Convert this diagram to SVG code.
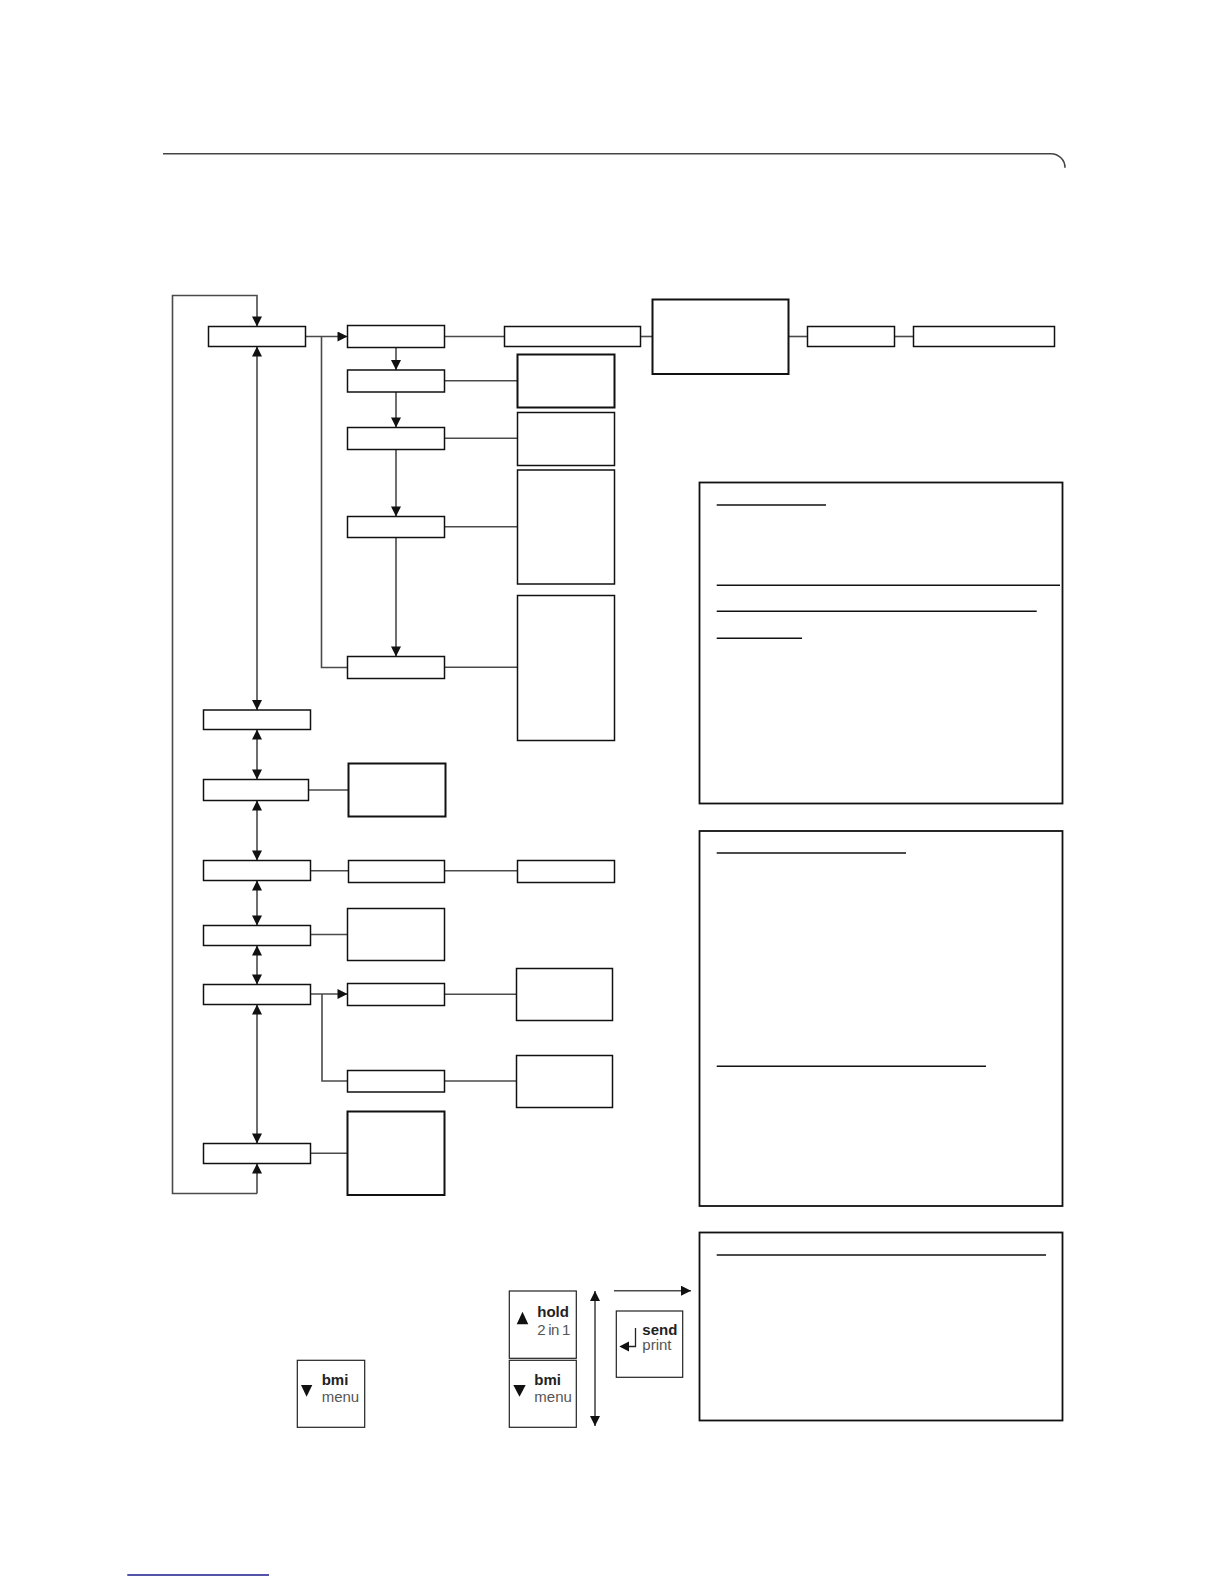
<svg xmlns="http://www.w3.org/2000/svg" width="1224" height="1584" viewBox="0 0 1224 1584">
<style>
  .n { fill: #fff; stroke: #111; stroke-width: 1.5; }
  .t { fill: #fff; stroke: #111; stroke-width: 2; }
  .info { fill: #fff; stroke: #111; stroke-width: 1.8; }
  .ul { stroke: #111; stroke-width: 1.6; }
  .c { fill: none; stroke: #4a4a4a; stroke-width: 1.6; }
  .key { fill: #fff; stroke: #222; stroke-width: 1.2; }
  .kb { font-family: "Liberation Sans", Arial, sans-serif; font-size: 15px; font-weight: bold; fill: #222; }
  .kr { font-family: "Liberation Sans", Arial, sans-serif; font-size: 15px; fill: #555; }
</style>
<defs>
  <marker id="ah" viewBox="0 0 10 10" refX="10" refY="5" markerWidth="11" markerHeight="10" markerUnits="userSpaceOnUse" orient="auto-start-reverse">
    <path d="M0,0 L10,5 L0,10 z" fill="#111"/>
  </marker>
</defs>
<rect width="1224" height="1584" fill="#fff"/>

<g id="header">
  <path d="M163,153.7 H1051 A14,14 0 0 1 1065,167.7" fill="none" stroke="#444" stroke-width="1.6"/>
</g>

<g id="connectors">
  <path class="c" d="M257,1193.5 H172.5 V295.5 H257 V326.5" marker-end="url(#ah)"/>
  <path class="c" d="M257,1193.5 V1163.5" marker-end="url(#ah)"/>
  <path class="c" d="M305.5,336.5 H347.5" marker-end="url(#ah)"/>
  <path class="c" d="M321.5,336.5 V667.5 H347.5"/>
  <path class="c" d="M444.5,336.5 H504.5"/>
  <path class="c" d="M640.5,336.5 H652.5"/>
  <path class="c" d="M788.5,336.5 H807.5"/>
  <path class="c" d="M894.5,336.5 H913.5"/>
  <path class="c" d="M396,347.5 V370" marker-end="url(#ah)"/>
  <path class="c" d="M444.5,380.7 H517.5"/>
  <path class="c" d="M396,392 V427.5" marker-end="url(#ah)"/>
  <path class="c" d="M444.5,438.3 H517.5"/>
  <path class="c" d="M396,449.5 V516.5" marker-end="url(#ah)"/>
  <path class="c" d="M444.5,526.7 H517.5"/>
  <path class="c" d="M396,537.5 V656.5" marker-end="url(#ah)"/>
  <path class="c" d="M444.5,667.3 H517.5"/>
  <path class="c" d="M257,346.5 V710" marker-start="url(#ah)" marker-end="url(#ah)"/>
  <path class="c" d="M257,729.5 V779.5" marker-start="url(#ah)" marker-end="url(#ah)"/>
  <path class="c" d="M308.5,790 H348.5"/>
  <path class="c" d="M257,800.5 V860.5" marker-start="url(#ah)" marker-end="url(#ah)"/>
  <path class="c" d="M310.5,870.7 H348.5"/>
  <path class="c" d="M444.5,870.7 H517.5"/>
  <path class="c" d="M257,880.5 V925.5" marker-start="url(#ah)" marker-end="url(#ah)"/>
  <path class="c" d="M310.5,934.5 H347.5"/>
  <path class="c" d="M257,945.5 V984.5" marker-start="url(#ah)" marker-end="url(#ah)"/>
  <path class="c" d="M310.5,994 H347.5" stroke="#111" stroke-width="2" marker-end="url(#ah)"/>
  <path class="c" d="M322,994 V1081 H347.5"/>
  <path class="c" d="M444.5,994.3 H516.5"/>
  <path class="c" d="M444.5,1081 H516.5"/>
  <path class="c" d="M257,1004.5 V1143.5" marker-start="url(#ah)" marker-end="url(#ah)"/>
  <path class="c" d="M310.5,1153.3 H347.5"/>
  <path class="c" d="M595,1291 V1426" stroke="#222" marker-start="url(#ah)" marker-end="url(#ah)"/>
  <path class="c" d="M614,1290.7 H691" marker-end="url(#ah)"/>
</g>

<g id="node-A"><rect class="n" x="208.5" y="326.5" width="97" height="20"/></g>
<g id="node-B"><rect class="n" x="347.5" y="325.5" width="97" height="22"/></g>
<g id="node-C"><rect class="n" x="504.5" y="326.5" width="136" height="20"/></g>
<g id="node-D"><rect class="t" x="652.5" y="299.5" width="136" height="74.5"/></g>
<g id="node-H"><rect class="n" x="807.5" y="326.5" width="87" height="20"/></g>
<g id="node-I"><rect class="n" x="913.5" y="326.5" width="141" height="20"/></g>
<g id="node-E"><rect class="n" x="347.5" y="370" width="97" height="22"/></g>
<g id="node-E2"><rect class="t" x="517.5" y="354.5" width="97" height="53"/></g>
<g id="node-J"><rect class="n" x="347.5" y="427.5" width="97" height="22"/></g>
<g id="node-G"><rect class="n" x="517.5" y="412.5" width="97" height="53"/></g>
<g id="node-K"><rect class="n" x="347.5" y="516.5" width="97" height="21"/></g>
<g id="node-L"><rect class="n" x="517.5" y="470" width="97" height="114"/></g>
<g id="node-M"><rect class="n" x="347.5" y="656.5" width="97" height="22"/></g>
<g id="node-N"><rect class="n" x="517.5" y="595.5" width="97" height="145"/></g>
<g id="node-O"><rect class="n" x="203.5" y="710" width="107" height="19.5"/></g>
<g id="node-P"><rect class="n" x="203.5" y="779.5" width="105" height="21"/></g>
<g id="node-Q"><rect class="t" x="348.5" y="763.5" width="97" height="53"/></g>
<g id="node-R"><rect class="n" x="203.5" y="860.5" width="107" height="20"/></g>
<g id="node-S"><rect class="n" x="348.5" y="860.5" width="96" height="22"/></g>
<g id="node-T"><rect class="n" x="517.5" y="860.5" width="97" height="22"/></g>
<g id="node-U"><rect class="n" x="203.5" y="925.5" width="107" height="20"/></g>
<g id="node-V"><rect class="n" x="347.5" y="908.5" width="97" height="52"/></g>
<g id="node-W"><rect class="n" x="203.5" y="984.5" width="107" height="20"/></g>
<g id="node-X"><rect class="n" x="347.5" y="983.5" width="97" height="22"/></g>
<g id="node-Z1"><rect class="n" x="516.5" y="968.5" width="96" height="52"/></g>
<g id="node-Y"><rect class="n" x="347.5" y="1070.5" width="97" height="21.5"/></g>
<g id="node-Z2"><rect class="n" x="516.5" y="1055.5" width="96" height="52"/></g>
<g id="node-AA"><rect class="n" x="203.5" y="1143.5" width="107" height="20"/></g>
<g id="node-AB"><rect class="t" x="347.5" y="1111.5" width="97" height="83.5"/></g>

<g id="info-1">
  <rect class="info" x="699.5" y="482.5" width="363" height="321"/>
  <line class="ul" x1="716.7" y1="505" x2="826" y2="505"/>
  <line class="ul" x1="716.7" y1="585.3" x2="1060" y2="585.3"/>
  <line class="ul" x1="716.7" y1="611.3" x2="1036.7" y2="611.3"/>
  <line class="ul" x1="716.7" y1="638.3" x2="802" y2="638.3"/>
</g>
<g id="info-2">
  <rect class="info" x="699.5" y="831" width="363" height="375"/>
  <line class="ul" x1="716.7" y1="853" x2="906" y2="853"/>
  <line class="ul" x1="716.7" y1="1066.3" x2="986" y2="1066.3"/>
</g>
<g id="info-3">
  <rect class="info" x="699.5" y="1232.5" width="363" height="188"/>
  <line class="ul" x1="716.7" y1="1255" x2="1046" y2="1255"/>
</g>

<g id="key-bmi-1">
  <rect class="key" x="297.3" y="1360.3" width="67.4" height="67"/>
  <polygon points="301,1385 312.3,1385 306.6,1396.7" fill="#111"/>
  <text class="kb" x="321.7" y="1385">bmi</text>
  <text class="kr" x="321.7" y="1401.7">menu</text>
</g>
<g id="key-hold">
  <rect class="key" x="509.3" y="1291" width="67" height="67.3"/>
  <polygon points="516.7,1324.3 528.3,1324.3 522.5,1311.7" fill="#111"/>
  <text class="kb" x="537.3" y="1317.3">hold</text>
  <text class="kr" x="537.3" y="1335" textLength="33" lengthAdjust="spacing">2 in 1</text>
</g>
<g id="key-bmi-2">
  <rect class="key" x="509.3" y="1360.3" width="67" height="67"/>
  <polygon points="513.3,1385 525.7,1385 519.5,1396.7" fill="#111"/>
  <text class="kb" x="534.3" y="1385">bmi</text>
  <text class="kr" x="534.3" y="1401.7">menu</text>
</g>
<g id="key-send">
  <rect class="key" x="616.3" y="1311" width="66.4" height="66.3"/>
  <path d="M635.5,1328 V1346.5 H628" fill="none" stroke="#222" stroke-width="1.3"/>
  <polygon points="619.3,1346.5 629,1341.5 629,1351.5" fill="#111"/>
  <text class="kb" x="642.3" y="1335">send</text>
  <text class="kr" x="642.3" y="1350">print</text>
</g>

<g id="footer">
  <line x1="127.3" y1="1575" x2="269" y2="1575" stroke="#1a1a8c" stroke-width="1.5"/>
</g>
</svg>
